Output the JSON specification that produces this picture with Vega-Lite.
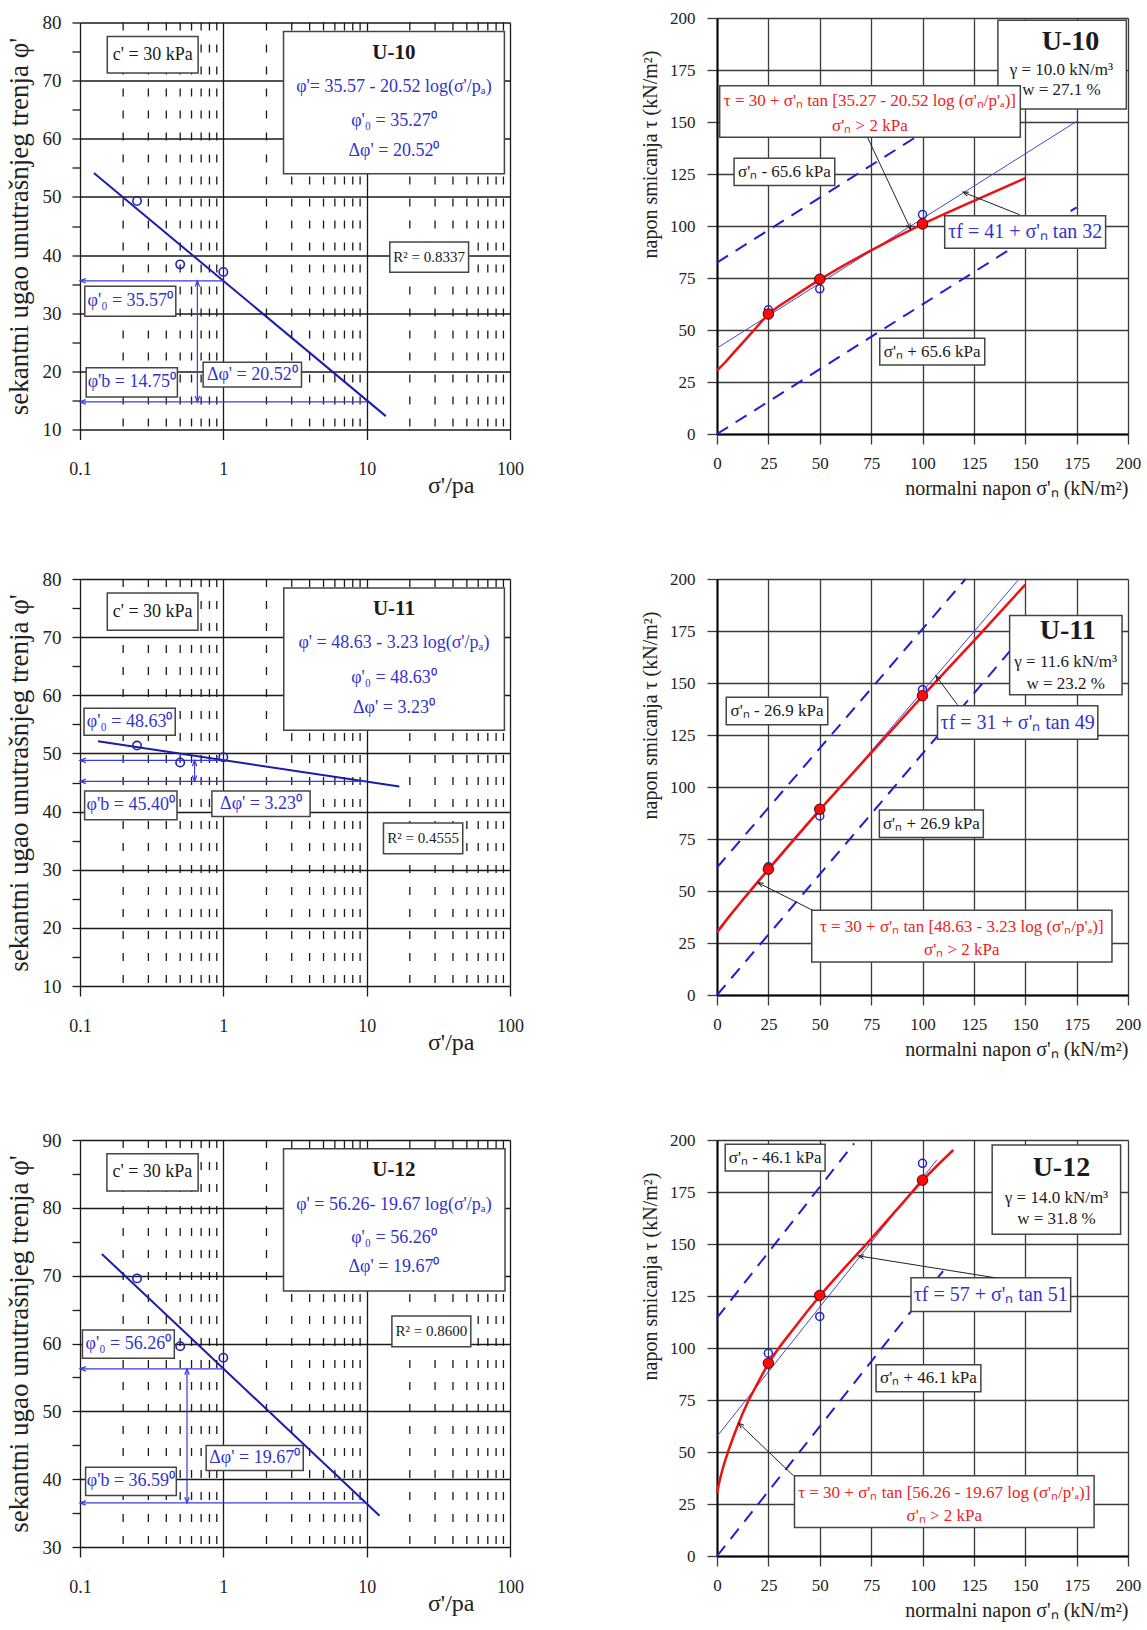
{
"$schema":"https://vega.github.io/schema/vega-lite/v6.json",
"background":"white",
"padding":{"left":5,"top":9,"right":2,"bottom":2},
"config":{"view":{"stroke":null},"font":"Liberation Serif","axis":{"labelFlush":false},"text":{"font":"Liberation Serif","baseline":"middle","align":"center"}},
"columns":2,
"align":"each",
"bounds":"flush",
"center":true,
"spacing":{"row":145,"column":207},
"datasets":{
"minor":[{"x":0.2},{"x":0.3},{"x":0.4},{"x":0.5},{"x":0.6},{"x":0.7},{"x":0.8},{"x":0.9},{"x":2},{"x":3},{"x":4},{"x":5},{"x":6},{"x":7},{"x":8},{"x":9},{"x":20},{"x":30},{"x":40},{"x":50},{"x":60},{"x":70},{"x":80},{"x":90}],
"regL":[{"p":"L10","x":0.125,"y":54.1},{"p":"L10","x":13.6,"y":12.3},{"p":"L11","x":0.1335,"y":52.1},{"p":"L11","x":16.9,"y":44.3},{"p":"L12","x":0.142,"y":73.2},{"p":"L12","x":12.3,"y":34.6}],
"arrL":[
{"p":"L10","x":1,"y":35.57,"x2":0.1,"y2":35.57},
{"p":"L10","x":10,"y":14.75,"x2":0.1,"y2":14.75},
{"p":"L10","x":0.659,"y":35.57,"x2":0.659,"y2":14.75},
{"p":"L11","x":1,"y":48.8,"x2":0.1,"y2":48.8},
{"p":"L11","x":10,"y":45.2,"x2":0.1,"y2":45.2},
{"p":"L11","x":0.63,"y":48.8,"x2":0.63,"y2":45.2},
{"p":"L12","x":1,"y":56.26,"x2":0.1,"y2":56.26},
{"p":"L12","x":10,"y":36.5,"x2":0.1,"y2":36.5},
{"p":"L12","x":0.558,"y":56.26,"x2":0.558,"y2":36.5}],
"headL":[
{"p":"L10","x":0.1,"y":35.57,"a":270},{"p":"L10","x":0.1,"y":14.75,"a":270},{"p":"L10","x":0.659,"y":35.57,"a":0},{"p":"L10","x":0.659,"y":14.75,"a":180},
{"p":"L11","x":0.1,"y":48.8,"a":270},{"p":"L11","x":0.1,"y":45.2,"a":270},{"p":"L11","x":0.63,"y":48.8,"a":0},{"p":"L11","x":0.63,"y":45.2,"a":180},
{"p":"L12","x":0.1,"y":56.26,"a":270},{"p":"L12","x":0.1,"y":36.5,"a":270},{"p":"L12","x":0.558,"y":56.26,"a":0},{"p":"L12","x":0.558,"y":36.5,"a":180}],
"ptsL":[
{"p":"L10","x":0.25,"y":49.3},{"p":"L10","x":0.5,"y":38.4},{"p":"L10","x":1,"y":37.1},
{"p":"L11","x":0.25,"y":51.35},{"p":"L11","x":0.5,"y":48.45},{"p":"L11","x":1,"y":49.36},
{"p":"L12","x":0.25,"y":69.6},{"p":"L12","x":0.5,"y":59.6},{"p":"L12","x":1,"y":57.9}],
"boxL":[
{"p":"L10","x":0.155,"x2":0.667,"y":71.3,"y2":77.6},
{"p":"L10","x":2.63,"x2":91.4,"y":54.0,"y2":78.45},
{"p":"L10","x":14.5,"x2":51.4,"y":37.04,"y2":42.25},
{"p":"L10","x":0.108,"x2":0.466,"y":29.48,"y2":34.63},
{"p":"L10","x":0.1105,"x2":0.478,"y":15.61,"y2":20.6},
{"p":"L10","x":0.723,"x2":3.51,"y":17.33,"y2":21.57},
{"p":"L11","x":0.155,"x2":0.665,"y":71.2,"y2":77.6},
{"p":"L11","x":2.64,"x2":91.4,"y":53.97,"y2":78.46},
{"p":"L11","x":0.1067,"x2":0.462,"y":53.12,"y2":57.79},
{"p":"L11","x":0.1077,"x2":0.475,"y":38.59,"y2":43.55},
{"p":"L11","x":0.832,"x2":4.03,"y":39.16,"y2":43.55},
{"p":"L11","x":13.1,"x2":46.8,"y":32.73,"y2":38.02},
{"p":"L12","x":0.154,"x2":0.667,"y":82.49,"y2":87.99},
{"p":"L12","x":2.63,"x2":92.3,"y":67.73,"y2":88.72},
{"p":"L12","x":15.0,"x2":53.3,"y":59.53,"y2":64.05},
{"p":"L12","x":0.104,"x2":0.455,"y":57.82,"y2":61.99},
{"p":"L12","x":0.1094,"x2":0.47,"y":37.6,"y2":41.77},
{"p":"L12","x":0.759,"x2":3.61,"y":41.28,"y2":44.96}],
"txtL":[
{"p":"L10","k":"blk","x":0.3215,"y":74.45,"t":"c' = 30 kPa"},
{"p":"L10","k":"ttl","x":15.5,"y":74.73,"t":"U-10"},
{"p":"L10","k":"blu","x":15.5,"y":68.89,"t":"φ'= 35.57 - 20.52 log(σ'/pₐ)"},
{"p":"L10","k":"blu","x":15.5,"y":62.99,"t":"φ'₀ = 35.27⁰"},
{"p":"L10","k":"blu","x":15.5,"y":57.83,"t":"Δφ' = 20.52⁰"},
{"p":"L10","k":"r2","x":27.3,"y":39.65,"t":"R² = 0.8337"},
{"p":"L10","k":"blu","x":0.2243,"y":32.06,"t":"φ'₀ = 35.57⁰"},
{"p":"L10","k":"blu","x":0.2298,"y":18.1,"t":"φ'b = 14.75⁰"},
{"p":"L10","k":"blu","x":1.593,"y":19.45,"t":"Δφ' = 20.52⁰"},
{"p":"L11","k":"blk","x":0.321,"y":74.4,"t":"c' = 30 kPa"},
{"p":"L11","k":"ttl","x":15.5,"y":74.76,"t":"U-11"},
{"p":"L11","k":"blu","x":15.5,"y":68.95,"t":"φ' = 48.63 - 3.23 log(σ'/pₐ)"},
{"p":"L11","k":"blu","x":15.5,"y":62.97,"t":"φ'₀ = 48.63⁰"},
{"p":"L11","k":"blu","x":15.5,"y":57.84,"t":"Δφ' = 3.23⁰"},
{"p":"L11","k":"blu","x":0.222,"y":55.46,"t":"φ'₀ = 48.63⁰"},
{"p":"L11","k":"blu","x":0.226,"y":41.07,"t":"φ'b = 45.40⁰"},
{"p":"L11","k":"blu","x":1.831,"y":41.36,"t":"Δφ' = 3.23⁰"},
{"p":"L11","k":"r2","x":24.76,"y":35.38,"t":"R² = 0.4555"},
{"p":"L12","k":"blk","x":0.32,"y":85.24,"t":"c' = 30 kPa"},
{"p":"L12","k":"ttl","x":15.5,"y":85.54,"t":"U-12"},
{"p":"L12","k":"blu","x":15.5,"y":80.38,"t":"φ' = 56.26- 19.67 log(σ'/pₐ)"},
{"p":"L12","k":"blu","x":15.5,"y":75.48,"t":"φ'₀ = 56.26⁰"},
{"p":"L12","k":"blu","x":15.5,"y":71.21,"t":"Δφ' = 19.67⁰"},
{"p":"L12","k":"r2","x":28.3,"y":61.79,"t":"R² = 0.8600"},
{"p":"L12","k":"blu","x":0.2175,"y":59.9,"t":"φ'₀ = 56.26⁰"},
{"p":"L12","k":"blu","x":0.2268,"y":39.69,"t":"φ'b = 36.59⁰"},
{"p":"L12","k":"blu","x":1.655,"y":43.12,"t":"Δφ' = 19.67⁰"}],
"segR":[
{"p":"R10","k":"d","x":0,"y":82.4,"x2":96.7,"y2":142.7},
{"p":"R10","k":"d","x":0,"y":0,"x2":175,"y2":109},
{"p":"R10","k":"t","x":0,"y":41.3,"x2":175,"y2":150.3},
{"p":"R10","k":"a","x":73.2,"y":142.7,"x2":94.2,"y2":98.5},
{"p":"R10","k":"a","x":147.3,"y":105.4,"x2":119.7,"y2":116.3},
{"p":"R11","k":"d","x":0,"y":61.3,"x2":121,"y2":200},
{"p":"R11","k":"d","x":0,"y":0,"x2":150,"y2":174},
{"p":"R11","k":"t","x":0,"y":31,"x2":147,"y2":200},
{"p":"R11","k":"a","x":117,"y":139.5,"x2":106.5,"y2":153.5},
{"p":"R11","k":"a","x":46.6,"y":40.7,"x2":19.9,"y2":54},
{"p":"R12","k":"d","x":0,"y":114.5,"x2":66.7,"y2":198.4},
{"p":"R12","k":"d","x":0,"y":0,"x2":110,"y2":137},
{"p":"R12","k":"t","x":0,"y":57.5,"x2":107,"y2":190.5},
{"p":"R12","k":"a","x":135.2,"y":133.8,"x2":68.8,"y2":144.3},
{"p":"R12","k":"a","x":37.2,"y":38.6,"x2":10.5,"y2":63.9}],
"headR":[
{"p":"R10","x":94.2,"y":98.5,"a":154.8},
{"p":"R10","x":119.7,"y":116.3,"a":291.8},
{"p":"R11","x":106.5,"y":153.5,"a":323.4},
{"p":"R11","x":19.9,"y":54,"a":296.6},
{"p":"R12","x":68.8,"y":144.3,"a":279.1},
{"p":"R12","x":10.5,"y":63.9,"a":313.7}],
"curveR":[
{"p":"R10","x":0,"y":30.5},{"p":"R10","x":4,"y":34.5},{"p":"R10","x":8.6,"y":39.6},{"p":"R10","x":16.7,"y":48.5},{"p":"R10","x":25,"y":57.5},{"p":"R10","x":37.5,"y":66.2},{"p":"R10","x":50,"y":74.2},{"p":"R10","x":75,"y":88.3},{"p":"R10","x":100,"y":100.9},{"p":"R10","x":125,"y":112.1},{"p":"R10","x":150,"y":123},
{"p":"R11","x":0,"y":30},{"p":"R11","x":5,"y":36.6},{"p":"R11","x":10,"y":42.7},{"p":"R11","x":25,"y":60.4},{"p":"R11","x":50,"y":89},{"p":"R11","x":75,"y":116.4},{"p":"R11","x":100,"y":143.7},{"p":"R11","x":125,"y":170.3},{"p":"R11","x":150,"y":197.3},
{"p":"R12","x":0,"y":30},{"p":"R12","x":1,"y":35},{"p":"R12","x":2.5,"y":41},{"p":"R12","x":5,"y":49},{"p":"R12","x":7.5,"y":56},{"p":"R12","x":10,"y":62.5},{"p":"R12","x":15,"y":74},{"p":"R12","x":20,"y":83.5},{"p":"R12","x":25,"y":92.5},{"p":"R12","x":37.5,"y":109.5},{"p":"R12","x":50,"y":125},{"p":"R12","x":62.5,"y":139},{"p":"R12","x":75,"y":152.5},{"p":"R12","x":87.5,"y":166.5},{"p":"R12","x":100,"y":180.5},{"p":"R12","x":115,"y":195.2}],
"ptsRb":[
{"p":"R10","x":25,"y":59.7},{"p":"R10","x":50,"y":69.8},{"p":"R10","x":100,"y":105.5},
{"p":"R11","x":25,"y":61.6},{"p":"R11","x":50,"y":86.1},{"p":"R11","x":100,"y":146.8},
{"p":"R12","x":25,"y":97.5},{"p":"R12","x":50,"y":115.2},{"p":"R12","x":100,"y":188.8}],
"ptsRr":[
{"p":"R10","x":25,"y":57.7},{"p":"R10","x":50,"y":74.4},{"p":"R10","x":100,"y":101},
{"p":"R11","x":25,"y":60.5},{"p":"R11","x":50,"y":89.3},{"p":"R11","x":100,"y":143.9},
{"p":"R12","x":25,"y":92.7},{"p":"R12","x":50,"y":125.3},{"p":"R12","x":100,"y":180.7}],
"boxR":[
{"p":"R10","x":136.7,"x2":199.2,"y":156.2,"y2":198.9},
{"p":"R10","x":1.3,"x2":147.6,"y":142.7,"y2":167.4},
{"p":"R10","x":8.3,"x2":57.3,"y":119.5,"y2":132.6},
{"p":"R10","x":79.2,"x2":130.3,"y":33.2,"y2":46},
{"p":"R10","x":110.8,"x2":189.1,"y":89.3,"y2":104.9},
{"p":"R11","x":142.4,"x2":197.1,"y":144.3,"y2":182.4},
{"p":"R11","x":4.5,"x2":53.9,"y":129.9,"y2":143.1},
{"p":"R11","x":79,"x2":129.6,"y":75.7,"y2":88.9},
{"p":"R11","x":107.3,"x2":185.3,"y":123,"y2":139.1},
{"p":"R11","x":46.1,"x2":192.2,"y":15.9,"y2":40.7},
{"p":"R12","x":4,"x2":52.6,"y":185.1,"y2":197.9},
{"p":"R12","x":133.9,"x2":196.4,"y":154.7,"y2":197.6},
{"p":"R12","x":94.4,"x2":172.1,"y":117.6,"y2":133.8},
{"p":"R12","x":77.4,"x2":128.4,"y":79,"y2":91.9},
{"p":"R12","x":37.7,"x2":183.5,"y":13.7,"y2":38.6}],
"txtR":[
{"p":"R10","k":"id","x":172,"y":188.5,"t":"U-10"},
{"p":"R10","k":"prop","x":167.6,"y":174.8,"t":"γ = 10.0 kN/m³"},
{"p":"R10","k":"prop","x":167.6,"y":165.2,"t":"w = 27.1 %"},
{"p":"R10","k":"red","x":74.4,"y":160,"t":"τ = 30 + σ'ₙ tan [35.27 - 20.52 log (σ'ₙ/p'ₐ)]"},
{"p":"R10","k":"red","x":74.4,"y":148.3,"t":"σ'ₙ > 2 kPa"},
{"p":"R10","k":"blk","x":32.8,"y":126,"t":"σ'ₙ - 65.6 kPa"},
{"p":"R10","k":"blk","x":104.7,"y":39.6,"t":"σ'ₙ + 65.6 kPa"},
{"p":"R10","k":"blu","x":150,"y":97.1,"t":"τf = 41 + σ'ₙ tan 32"},
{"p":"R11","k":"id","x":170.7,"y":175.1,"t":"U-11"},
{"p":"R11","k":"prop","x":169.7,"y":159.9,"t":"γ = 11.6 kN/m³"},
{"p":"R11","k":"prop","x":169.7,"y":149.5,"t":"w = 23.2 %"},
{"p":"R11","k":"blk","x":29.2,"y":136.5,"t":"σ'ₙ - 26.9 kPa"},
{"p":"R11","k":"blk","x":104.3,"y":82.3,"t":"σ'ₙ + 26.9 kPa"},
{"p":"R11","k":"blu","x":146.3,"y":131,"t":"τf = 31 + σ'ₙ tan 49"},
{"p":"R11","k":"red","x":119.1,"y":32.9,"t":"τ = 30 + σ'ₙ tan [48.63 - 3.23 log (σ'ₙ/p'ₐ)]"},
{"p":"R11","k":"red","x":119.1,"y":21.5,"t":"σ'ₙ > 2 kPa"},
{"p":"R12","k":"blk","x":28.3,"y":191.5,"t":"σ'ₙ - 46.1 kPa"},
{"p":"R12","k":"id","x":167.6,"y":186.7,"t":"U-12"},
{"p":"R12","k":"prop","x":165.2,"y":171.9,"t":"γ = 14.0 kN/m³"},
{"p":"R12","k":"prop","x":165.2,"y":162.2,"t":"w = 31.8 %"},
{"p":"R12","k":"blu","x":133.2,"y":125.7,"t":"τf = 57 + σ'ₙ tan 51"},
{"p":"R12","k":"blk","x":102.9,"y":85.4,"t":"σ'ₙ + 46.1 kPa"},
{"p":"R12","k":"red","x":110.6,"y":30.5,"t":"τ = 30 + σ'ₙ tan [56.26 - 19.67 log (σ'ₙ/p'ₐ)]"},
{"p":"R12","k":"red","x":110.6,"y":19.3,"t":"σ'ₙ > 2 kPa"}]
},
"concat":[
{
"width":430,"height":407,
"encoding":{
"x":{"field":"x","type":"quantitative","scale":{"type":"log","domain":[0.1,100]},"axis":{"values":[0.1,1,10,100],"format":"~g","labelFlush":false,"grid":true,"gridColor":"#1a1a1a","gridWidth":1.3,"tickSize":10,"tickColor":"#1a1a1a","tickWidth":1.3,"domain":false,"labelFontSize":18,"labelPadding":21,"labelColor":"#222","labelFont":"Liberation Serif","title":"σ'/pa","titleFont":"Liberation Serif","titleFontSize":24,"titleFontWeight":"normal","titleColor":"#222","titleX":394,"titleY":63,"titleAlign":"right","titleBaseline":"alphabetic"}},
"y":{"field":"y","type":"quantitative","scale":{"domain":[10,80],"nice":false,"zero":false},"axis":{"values":[10,15,20,25,30,35,40,45,50,55,60,65,70,75,80],"labelFlush":false,"labelExpr":"datum.value % 10 == 0 ? datum.label : ''","grid":true,"gridColor":"#1a1a1a","gridWidth":1.3,"gridOpacity":{"condition":{"test":"datum.value % 10 != 0","value":0},"value":1},"tickSize":8,"tickColor":"#1a1a1a","tickWidth":1.3,"domain":false,"labelFontSize":19,"labelPadding":11,"labelColor":"#222","labelFont":"Liberation Serif","title":"sekantni ugao unutrašnjeg trenja  φ'","titleFont":"Liberation Serif","titleFontSize":27,"titleFontWeight":"normal","titleColor":"#222","titlePadding":9}}
},
"layer":[
{"data":{"name":"minor"},"mark":{"type":"rule","strokeDash":[8,14],"color":"#1a1a1a","strokeWidth":1.3},"encoding":{"y":null}},
{"data":{"name":"boxL"},"transform":[{"filter":"datum.p=='L10'"}],"mark":{"type":"rect","fill":"white","stroke":"#444","strokeWidth":1.5},"encoding":{"x2":{"field":"x2"},"y2":{"field":"y2"}}},
{"data":{"name":"regL"},"transform":[{"filter":"datum.p=='L10'"}],"mark":{"type":"line","color":"#1c1caa","strokeWidth":2}},
{"data":{"name":"arrL"},"transform":[{"filter":"datum.p=='L10'"}],"mark":{"type":"rule","color":"#3a3ae0","strokeWidth":1.2},"encoding":{"x2":{"field":"x2"},"y2":{"field":"y2"}}},
{"data":{"name":"headL"},"transform":[{"filter":"datum.p=='L10'"}],"mark":{"type":"point","shape":"M -0.5 1.3 L 0 0 L 0.5 1.3","filled":false,"stroke":"#3a3ae0","strokeWidth":1.2,"size":80,"opacity":1},"encoding":{"angle":{"field":"a","type":"quantitative","scale":null}}},
{"data":{"name":"txtL"},"transform":[{"filter":"datum.p=='L10'&&datum.k=='blk'"}],"mark":{"type":"text","fontSize":18,"color":"#1a1a1a"},"encoding":{"text":{"field":"t"}}},
{"data":{"name":"txtL"},"transform":[{"filter":"datum.p=='L10'&&datum.k=='r2'"}],"mark":{"type":"text","fontSize":15,"color":"#1a1a1a"},"encoding":{"text":{"field":"t"}}},
{"data":{"name":"txtL"},"transform":[{"filter":"datum.p=='L10'&&datum.k=='ttl'"}],"mark":{"type":"text","fontSize":21,"fontWeight":"bold","color":"#1a1a1a"},"encoding":{"text":{"field":"t"}}},
{"data":{"name":"txtL"},"transform":[{"filter":"datum.p=='L10'&&datum.k=='blu'"}],"mark":{"type":"text","fontSize":18,"color":"#3333cc"},"encoding":{"text":{"field":"t"}}},
{"data":{"name":"ptsL"},"transform":[{"filter":"datum.p=='L10'"}],"mark":{"type":"point","shape":"circle","filled":false,"stroke":"#2222bb","strokeWidth":1.6,"size":70,"opacity":1}}
]
},
{
"width":411,"height":416,
"encoding":{
"x":{"field":"x","type":"quantitative","scale":{"domain":[0,200],"nice":false},"axis":{"values":[0,25,50,75,100,125,150,175,200],"labelFlush":false,"grid":true,"gridColor":"#3a3a3a","gridWidth":1.3,"tickSize":10,"tickColor":"#3a3a3a","tickWidth":1.3,"domain":true,"domainColor":"#000","domainWidth":2,"labelFontSize":17,"labelPadding":11,"labelColor":"#222","labelFont":"Liberation Serif","title":"normalni napon  σ'ₙ  (kN/m²)","titleFont":"Liberation Serif","titleFontSize":20,"titleFontWeight":"normal","titleColor":"#222","titleAnchor":"end","titlePadding":7}},
"y":{"field":"y","type":"quantitative","scale":{"domain":[0,200],"nice":false},"axis":{"values":[0,25,50,75,100,125,150,175,200],"labelFlush":false,"grid":true,"gridColor":"#3a3a3a","gridWidth":1.3,"tickSize":10,"tickColor":"#3a3a3a","tickWidth":1.3,"domain":true,"domainColor":"#000","domainWidth":2,"labelFontSize":17,"labelPadding":12,"labelColor":"#222","labelFont":"Liberation Serif","title":"napon smicanja  τ  (kN/m²)","titleFont":"Liberation Serif","titleFontSize":20,"titleFontWeight":"normal","titleColor":"#222","titleY":32,"titleAlign":"right","titlePadding":9}}
},
"layer":[
{"data":{"name":"segR"},"transform":[{"filter":"datum.p=='R10'&&datum.k=='d'"}],"mark":{"type":"rule","color":"#1f1fd0","strokeWidth":2,"strokeDash":[13,9]},"encoding":{"x2":{"field":"x2"},"y2":{"field":"y2"}}},
{"data":{"name":"segR"},"transform":[{"filter":"datum.p=='R10'&&datum.k=='t'"}],"mark":{"type":"rule","color":"#4646dc","strokeWidth":1},"encoding":{"x2":{"field":"x2"},"y2":{"field":"y2"}}},
{"data":{"name":"curveR"},"transform":[{"filter":"datum.p=='R10'"}],"mark":{"type":"line","color":"#ee1111","strokeWidth":2.5,"interpolate":"monotone"}},
{"data":{"name":"boxR"},"transform":[{"filter":"datum.p=='R10'"}],"mark":{"type":"rect","fill":"white","stroke":"#444","strokeWidth":1.5},"encoding":{"x2":{"field":"x2"},"y2":{"field":"y2"}}},
{"data":{"name":"txtR"},"transform":[{"filter":"datum.p=='R10'&&datum.k=='id'"}],"mark":{"type":"text","fontSize":28,"fontWeight":"bold","color":"#1a1a1a"},"encoding":{"text":{"field":"t"}}},
{"data":{"name":"txtR"},"transform":[{"filter":"datum.p=='R10'&&(datum.k=='prop'||datum.k=='blk')"}],"mark":{"type":"text","fontSize":17,"color":"#1a1a1a"},"encoding":{"text":{"field":"t"}}},
{"data":{"name":"txtR"},"transform":[{"filter":"datum.p=='R10'&&datum.k=='red'"}],"mark":{"type":"text","fontSize":17,"color":"#ee2222"},"encoding":{"text":{"field":"t"}}},
{"data":{"name":"txtR"},"transform":[{"filter":"datum.p=='R10'&&datum.k=='blu'"}],"mark":{"type":"text","fontSize":20,"color":"#3333cc"},"encoding":{"text":{"field":"t"}}},
{"data":{"name":"segR"},"transform":[{"filter":"datum.p=='R10'&&datum.k=='a'"}],"mark":{"type":"rule","color":"#222","strokeWidth":1},"encoding":{"x2":{"field":"x2"},"y2":{"field":"y2"}}},
{"data":{"name":"headR"},"transform":[{"filter":"datum.p=='R10'"}],"mark":{"type":"point","shape":"M -0.5 1.3 L 0 0 L 0.5 1.3","filled":false,"stroke":"#222","strokeWidth":1,"size":70,"opacity":1},"encoding":{"angle":{"field":"a","type":"quantitative","scale":null}}},
{"data":{"name":"ptsRb"},"transform":[{"filter":"datum.p=='R10'"}],"mark":{"type":"point","shape":"circle","filled":false,"stroke":"#2222dd","strokeWidth":1.5,"size":64,"opacity":1}},
{"data":{"name":"ptsRr"},"transform":[{"filter":"datum.p=='R10'"}],"mark":{"type":"point","shape":"circle","filled":true,"fill":"#ff0a0a","stroke":"#550000","strokeWidth":1,"size":110,"opacity":1}}
]
},
{
"width":430,"height":407,
"encoding":{
"x":{"field":"x","type":"quantitative","scale":{"type":"log","domain":[0.1,100]},"axis":{"values":[0.1,1,10,100],"format":"~g","labelFlush":false,"grid":true,"gridColor":"#1a1a1a","gridWidth":1.3,"tickSize":10,"tickColor":"#1a1a1a","tickWidth":1.3,"domain":false,"labelFontSize":18,"labelPadding":21,"labelColor":"#222","labelFont":"Liberation Serif","title":"σ'/pa","titleFont":"Liberation Serif","titleFontSize":24,"titleFontWeight":"normal","titleColor":"#222","titleX":394,"titleY":63,"titleAlign":"right","titleBaseline":"alphabetic"}},
"y":{"field":"y","type":"quantitative","scale":{"domain":[10,80],"nice":false,"zero":false},"axis":{"values":[10,15,20,25,30,35,40,45,50,55,60,65,70,75,80],"labelFlush":false,"labelExpr":"datum.value % 10 == 0 ? datum.label : ''","grid":true,"gridColor":"#1a1a1a","gridWidth":1.3,"gridOpacity":{"condition":{"test":"datum.value % 10 != 0","value":0},"value":1},"tickSize":8,"tickColor":"#1a1a1a","tickWidth":1.3,"domain":false,"labelFontSize":19,"labelPadding":11,"labelColor":"#222","labelFont":"Liberation Serif","title":"sekantni ugao unutrašnjeg trenja  φ'","titleFont":"Liberation Serif","titleFontSize":27,"titleFontWeight":"normal","titleColor":"#222","titlePadding":9}}
},
"layer":[
{"data":{"name":"minor"},"mark":{"type":"rule","strokeDash":[8,14],"color":"#1a1a1a","strokeWidth":1.3},"encoding":{"y":null}},
{"data":{"name":"boxL"},"transform":[{"filter":"datum.p=='L11'"}],"mark":{"type":"rect","fill":"white","stroke":"#444","strokeWidth":1.5},"encoding":{"x2":{"field":"x2"},"y2":{"field":"y2"}}},
{"data":{"name":"regL"},"transform":[{"filter":"datum.p=='L11'"}],"mark":{"type":"line","color":"#1c1caa","strokeWidth":2}},
{"data":{"name":"arrL"},"transform":[{"filter":"datum.p=='L11'"}],"mark":{"type":"rule","color":"#3a3ae0","strokeWidth":1.2},"encoding":{"x2":{"field":"x2"},"y2":{"field":"y2"}}},
{"data":{"name":"headL"},"transform":[{"filter":"datum.p=='L11'"}],"mark":{"type":"point","shape":"M -0.5 1.3 L 0 0 L 0.5 1.3","filled":false,"stroke":"#3a3ae0","strokeWidth":1.2,"size":80,"opacity":1},"encoding":{"angle":{"field":"a","type":"quantitative","scale":null}}},
{"data":{"name":"txtL"},"transform":[{"filter":"datum.p=='L11'&&datum.k=='blk'"}],"mark":{"type":"text","fontSize":18,"color":"#1a1a1a"},"encoding":{"text":{"field":"t"}}},
{"data":{"name":"txtL"},"transform":[{"filter":"datum.p=='L11'&&datum.k=='r2'"}],"mark":{"type":"text","fontSize":15,"color":"#1a1a1a"},"encoding":{"text":{"field":"t"}}},
{"data":{"name":"txtL"},"transform":[{"filter":"datum.p=='L11'&&datum.k=='ttl'"}],"mark":{"type":"text","fontSize":21,"fontWeight":"bold","color":"#1a1a1a"},"encoding":{"text":{"field":"t"}}},
{"data":{"name":"txtL"},"transform":[{"filter":"datum.p=='L11'&&datum.k=='blu'"}],"mark":{"type":"text","fontSize":18,"color":"#3333cc"},"encoding":{"text":{"field":"t"}}},
{"data":{"name":"ptsL"},"transform":[{"filter":"datum.p=='L11'"}],"mark":{"type":"point","shape":"circle","filled":false,"stroke":"#2222bb","strokeWidth":1.6,"size":70,"opacity":1}}
]
},
{
"width":411,"height":416,
"encoding":{
"x":{"field":"x","type":"quantitative","scale":{"domain":[0,200],"nice":false},"axis":{"values":[0,25,50,75,100,125,150,175,200],"labelFlush":false,"grid":true,"gridColor":"#3a3a3a","gridWidth":1.3,"tickSize":10,"tickColor":"#3a3a3a","tickWidth":1.3,"domain":true,"domainColor":"#000","domainWidth":2,"labelFontSize":17,"labelPadding":11,"labelColor":"#222","labelFont":"Liberation Serif","title":"normalni napon  σ'ₙ  (kN/m²)","titleFont":"Liberation Serif","titleFontSize":20,"titleFontWeight":"normal","titleColor":"#222","titleAnchor":"end","titlePadding":7}},
"y":{"field":"y","type":"quantitative","scale":{"domain":[0,200],"nice":false},"axis":{"values":[0,25,50,75,100,125,150,175,200],"labelFlush":false,"grid":true,"gridColor":"#3a3a3a","gridWidth":1.3,"tickSize":10,"tickColor":"#3a3a3a","tickWidth":1.3,"domain":true,"domainColor":"#000","domainWidth":2,"labelFontSize":17,"labelPadding":12,"labelColor":"#222","labelFont":"Liberation Serif","title":"napon smicanja  τ  (kN/m²)","titleFont":"Liberation Serif","titleFontSize":20,"titleFontWeight":"normal","titleColor":"#222","titleY":32,"titleAlign":"right","titlePadding":9}}
},
"layer":[
{"data":{"name":"segR"},"transform":[{"filter":"datum.p=='R11'&&datum.k=='d'"}],"mark":{"type":"rule","color":"#1f1fd0","strokeWidth":2,"strokeDash":[13,9]},"encoding":{"x2":{"field":"x2"},"y2":{"field":"y2"}}},
{"data":{"name":"segR"},"transform":[{"filter":"datum.p=='R11'&&datum.k=='t'"}],"mark":{"type":"rule","color":"#4646dc","strokeWidth":1},"encoding":{"x2":{"field":"x2"},"y2":{"field":"y2"}}},
{"data":{"name":"curveR"},"transform":[{"filter":"datum.p=='R11'"}],"mark":{"type":"line","color":"#ee1111","strokeWidth":2.5,"interpolate":"monotone"}},
{"data":{"name":"boxR"},"transform":[{"filter":"datum.p=='R11'"}],"mark":{"type":"rect","fill":"white","stroke":"#444","strokeWidth":1.5},"encoding":{"x2":{"field":"x2"},"y2":{"field":"y2"}}},
{"data":{"name":"txtR"},"transform":[{"filter":"datum.p=='R11'&&datum.k=='id'"}],"mark":{"type":"text","fontSize":28,"fontWeight":"bold","color":"#1a1a1a"},"encoding":{"text":{"field":"t"}}},
{"data":{"name":"txtR"},"transform":[{"filter":"datum.p=='R11'&&(datum.k=='prop'||datum.k=='blk')"}],"mark":{"type":"text","fontSize":17,"color":"#1a1a1a"},"encoding":{"text":{"field":"t"}}},
{"data":{"name":"txtR"},"transform":[{"filter":"datum.p=='R11'&&datum.k=='red'"}],"mark":{"type":"text","fontSize":17,"color":"#ee2222"},"encoding":{"text":{"field":"t"}}},
{"data":{"name":"txtR"},"transform":[{"filter":"datum.p=='R11'&&datum.k=='blu'"}],"mark":{"type":"text","fontSize":20,"color":"#3333cc"},"encoding":{"text":{"field":"t"}}},
{"data":{"name":"segR"},"transform":[{"filter":"datum.p=='R11'&&datum.k=='a'"}],"mark":{"type":"rule","color":"#222","strokeWidth":1},"encoding":{"x2":{"field":"x2"},"y2":{"field":"y2"}}},
{"data":{"name":"headR"},"transform":[{"filter":"datum.p=='R11'"}],"mark":{"type":"point","shape":"M -0.5 1.3 L 0 0 L 0.5 1.3","filled":false,"stroke":"#222","strokeWidth":1,"size":70,"opacity":1},"encoding":{"angle":{"field":"a","type":"quantitative","scale":null}}},
{"data":{"name":"ptsRb"},"transform":[{"filter":"datum.p=='R11'"}],"mark":{"type":"point","shape":"circle","filled":false,"stroke":"#2222dd","strokeWidth":1.5,"size":64,"opacity":1}},
{"data":{"name":"ptsRr"},"transform":[{"filter":"datum.p=='R11'"}],"mark":{"type":"point","shape":"circle","filled":true,"fill":"#ff0a0a","stroke":"#550000","strokeWidth":1,"size":110,"opacity":1}}
]
},
{
"width":430,"height":407,
"encoding":{
"x":{"field":"x","type":"quantitative","scale":{"type":"log","domain":[0.1,100]},"axis":{"values":[0.1,1,10,100],"format":"~g","labelFlush":false,"grid":true,"gridColor":"#1a1a1a","gridWidth":1.3,"tickSize":10,"tickColor":"#1a1a1a","tickWidth":1.3,"domain":false,"labelFontSize":18,"labelPadding":21,"labelColor":"#222","labelFont":"Liberation Serif","title":"σ'/pa","titleFont":"Liberation Serif","titleFontSize":24,"titleFontWeight":"normal","titleColor":"#222","titleX":394,"titleY":63,"titleAlign":"right","titleBaseline":"alphabetic"}},
"y":{"field":"y","type":"quantitative","scale":{"domain":[30,90],"nice":false,"zero":false},"axis":{"values":[30,35,40,45,50,55,60,65,70,75,80,85,90],"labelFlush":false,"labelExpr":"datum.value % 10 == 0 ? datum.label : ''","grid":true,"gridColor":"#1a1a1a","gridWidth":1.3,"gridOpacity":{"condition":{"test":"datum.value % 10 != 0","value":0},"value":1},"tickSize":8,"tickColor":"#1a1a1a","tickWidth":1.3,"domain":false,"labelFontSize":19,"labelPadding":11,"labelColor":"#222","labelFont":"Liberation Serif","title":"sekantni ugao unutrašnjeg trenja  φ'","titleFont":"Liberation Serif","titleFontSize":27,"titleFontWeight":"normal","titleColor":"#222","titlePadding":9}}
},
"layer":[
{"data":{"name":"minor"},"mark":{"type":"rule","strokeDash":[8,14],"color":"#1a1a1a","strokeWidth":1.3},"encoding":{"y":null}},
{"data":{"name":"boxL"},"transform":[{"filter":"datum.p=='L12'"}],"mark":{"type":"rect","fill":"white","stroke":"#444","strokeWidth":1.5},"encoding":{"x2":{"field":"x2"},"y2":{"field":"y2"}}},
{"data":{"name":"regL"},"transform":[{"filter":"datum.p=='L12'"}],"mark":{"type":"line","color":"#1c1caa","strokeWidth":2}},
{"data":{"name":"arrL"},"transform":[{"filter":"datum.p=='L12'"}],"mark":{"type":"rule","color":"#3a3ae0","strokeWidth":1.2},"encoding":{"x2":{"field":"x2"},"y2":{"field":"y2"}}},
{"data":{"name":"headL"},"transform":[{"filter":"datum.p=='L12'"}],"mark":{"type":"point","shape":"M -0.5 1.3 L 0 0 L 0.5 1.3","filled":false,"stroke":"#3a3ae0","strokeWidth":1.2,"size":80,"opacity":1},"encoding":{"angle":{"field":"a","type":"quantitative","scale":null}}},
{"data":{"name":"txtL"},"transform":[{"filter":"datum.p=='L12'&&datum.k=='blk'"}],"mark":{"type":"text","fontSize":18,"color":"#1a1a1a"},"encoding":{"text":{"field":"t"}}},
{"data":{"name":"txtL"},"transform":[{"filter":"datum.p=='L12'&&datum.k=='r2'"}],"mark":{"type":"text","fontSize":15,"color":"#1a1a1a"},"encoding":{"text":{"field":"t"}}},
{"data":{"name":"txtL"},"transform":[{"filter":"datum.p=='L12'&&datum.k=='ttl'"}],"mark":{"type":"text","fontSize":21,"fontWeight":"bold","color":"#1a1a1a"},"encoding":{"text":{"field":"t"}}},
{"data":{"name":"txtL"},"transform":[{"filter":"datum.p=='L12'&&datum.k=='blu'"}],"mark":{"type":"text","fontSize":18,"color":"#3333cc"},"encoding":{"text":{"field":"t"}}},
{"data":{"name":"ptsL"},"transform":[{"filter":"datum.p=='L12'"}],"mark":{"type":"point","shape":"circle","filled":false,"stroke":"#2222bb","strokeWidth":1.6,"size":70,"opacity":1}}
]
},
{
"width":411,"height":416,
"encoding":{
"x":{"field":"x","type":"quantitative","scale":{"domain":[0,200],"nice":false},"axis":{"values":[0,25,50,75,100,125,150,175,200],"labelFlush":false,"grid":true,"gridColor":"#3a3a3a","gridWidth":1.3,"tickSize":10,"tickColor":"#3a3a3a","tickWidth":1.3,"domain":true,"domainColor":"#000","domainWidth":2,"labelFontSize":17,"labelPadding":11,"labelColor":"#222","labelFont":"Liberation Serif","title":"normalni napon  σ'ₙ  (kN/m²)","titleFont":"Liberation Serif","titleFontSize":20,"titleFontWeight":"normal","titleColor":"#222","titleAnchor":"end","titlePadding":7}},
"y":{"field":"y","type":"quantitative","scale":{"domain":[0,200],"nice":false},"axis":{"values":[0,25,50,75,100,125,150,175,200],"labelFlush":false,"grid":true,"gridColor":"#3a3a3a","gridWidth":1.3,"tickSize":10,"tickColor":"#3a3a3a","tickWidth":1.3,"domain":true,"domainColor":"#000","domainWidth":2,"labelFontSize":17,"labelPadding":12,"labelColor":"#222","labelFont":"Liberation Serif","title":"napon smicanja  τ  (kN/m²)","titleFont":"Liberation Serif","titleFontSize":20,"titleFontWeight":"normal","titleColor":"#222","titleY":32,"titleAlign":"right","titlePadding":9}}
},
"layer":[
{"data":{"name":"segR"},"transform":[{"filter":"datum.p=='R12'&&datum.k=='d'"}],"mark":{"type":"rule","color":"#1f1fd0","strokeWidth":2,"strokeDash":[13,9]},"encoding":{"x2":{"field":"x2"},"y2":{"field":"y2"}}},
{"data":{"name":"segR"},"transform":[{"filter":"datum.p=='R12'&&datum.k=='t'"}],"mark":{"type":"rule","color":"#4646dc","strokeWidth":1},"encoding":{"x2":{"field":"x2"},"y2":{"field":"y2"}}},
{"data":{"name":"curveR"},"transform":[{"filter":"datum.p=='R12'"}],"mark":{"type":"line","color":"#ee1111","strokeWidth":2.5,"interpolate":"monotone"}},
{"data":{"name":"boxR"},"transform":[{"filter":"datum.p=='R12'"}],"mark":{"type":"rect","fill":"white","stroke":"#444","strokeWidth":1.5},"encoding":{"x2":{"field":"x2"},"y2":{"field":"y2"}}},
{"data":{"name":"txtR"},"transform":[{"filter":"datum.p=='R12'&&datum.k=='id'"}],"mark":{"type":"text","fontSize":28,"fontWeight":"bold","color":"#1a1a1a"},"encoding":{"text":{"field":"t"}}},
{"data":{"name":"txtR"},"transform":[{"filter":"datum.p=='R12'&&(datum.k=='prop'||datum.k=='blk')"}],"mark":{"type":"text","fontSize":17,"color":"#1a1a1a"},"encoding":{"text":{"field":"t"}}},
{"data":{"name":"txtR"},"transform":[{"filter":"datum.p=='R12'&&datum.k=='red'"}],"mark":{"type":"text","fontSize":17,"color":"#ee2222"},"encoding":{"text":{"field":"t"}}},
{"data":{"name":"txtR"},"transform":[{"filter":"datum.p=='R12'&&datum.k=='blu'"}],"mark":{"type":"text","fontSize":20,"color":"#3333cc"},"encoding":{"text":{"field":"t"}}},
{"data":{"name":"segR"},"transform":[{"filter":"datum.p=='R12'&&datum.k=='a'"}],"mark":{"type":"rule","color":"#222","strokeWidth":1},"encoding":{"x2":{"field":"x2"},"y2":{"field":"y2"}}},
{"data":{"name":"headR"},"transform":[{"filter":"datum.p=='R12'"}],"mark":{"type":"point","shape":"M -0.5 1.3 L 0 0 L 0.5 1.3","filled":false,"stroke":"#222","strokeWidth":1,"size":70,"opacity":1},"encoding":{"angle":{"field":"a","type":"quantitative","scale":null}}},
{"data":{"name":"ptsRb"},"transform":[{"filter":"datum.p=='R12'"}],"mark":{"type":"point","shape":"circle","filled":false,"stroke":"#2222dd","strokeWidth":1.5,"size":64,"opacity":1}},
{"data":{"name":"ptsRr"},"transform":[{"filter":"datum.p=='R12'"}],"mark":{"type":"point","shape":"circle","filled":true,"fill":"#ff0a0a","stroke":"#550000","strokeWidth":1,"size":110,"opacity":1}}
]
}
]
}
